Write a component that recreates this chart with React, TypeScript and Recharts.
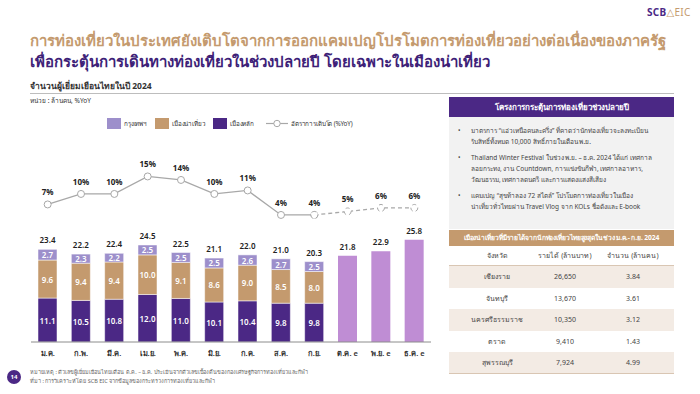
import { ComposedChart, Bar, Line, XAxis, YAxis, LabelList } from 'recharts';

const MONTHS = ['ม.ค.', 'ก.พ.', 'มี.ค.', 'เม.ย.', 'พ.ค.', 'มิ.ย.', 'ก.ค.', 'ส.ค.', 'ก.ย.', 'ต.ค. e', 'พ.ย. e', 'ธ.ค. e'];
const MAIN_CITY = [11.1, 10.5, 10.8, 12.0, 11.0, 10.1, 10.4, 9.8, 9.8, null, null, null];
const TOURIST_CITY = [9.6, 9.4, 9.4, 10.0, 9.1, 8.6, 9.0, 8.5, 8.0, null, null, null];
const BANGKOK = [2.7, 2.3, 2.2, 2.5, 2.5, 2.5, 2.6, 2.7, 2.5, null, null, null];
const ESTIMATE = [null, null, null, null, null, null, null, null, null, 21.8, 22.9, 25.8];
const TOTAL = [23.4, 22.2, 22.4, 24.5, 22.5, 21.1, 22.0, 21.0, 20.3, 21.8, 22.9, 25.8];
const YOY_ACTUAL = [7, 10, 10, 15, 14, 10, 11, 4, 4, null, null, null];
const YOY_EST = [null, null, null, null, null, null, null, null, 4, 5, 6, 6];

const PROVINCES = ['เชียงราย', 'จันทบุรี', 'นครศรีธรรมราช', 'ตราด', 'สุพรรณบุรี'];
const REVENUE = ['26,650', '13,670', '10,350', '9,410', '7,924'];
const VISITORS = ['3.84', '3.61', '3.12', '1.43', '4.99'];

const BULLETS = [
  ['มาตรการ “แอ่วเหนือคนละครึ่ง” ที่คาดว่านักท่องเที่ยวจะลงทะเบียน', 'รับสิทธิ์ทั้งหมด 10,000 สิทธิ์ภายในเดือน พ.ย.'],
  ['Thailand Winter Festival ในช่วง พ.ย. – ธ.ค. 2024 ได้แก่ เทศกาล', 'ลอยกระทง, งาน Countdown, การแข่งขันกีฬา, เทศกาลอาหาร,', 'วัฒนธรรม, เทศกาลดนตรี และการแสดงแสงสีเสียง'],
  ['แคมเปญ “สุขท้าลอง 72 สไตล์” โปรโมตการท่องเที่ยวในเมือง', 'น่าเที่ยวทั่วไทยผ่าน Travel Vlog จาก KOLs ชื่อดังและ E-book'],
];

const C_MAIN = '#4B2885';
const C_TOUR = '#C49A6E';
const C_BKK = '#9D8FCB';
const C_EST = '#BF8DD4';
const C_LINE = '#A8A8A8';
const FONT = "'Noto Sans', 'DejaVu Sans', sans-serif";

const data = MONTHS.map((m, i) => ({
  month: m,
  main: MAIN_CITY[i],
  tour: TOURIST_CITY[i],
  bkk: BANGKOK[i],
  est: ESTIMATE[i],
  totalTop: BANGKOK[i] == null ? null : TOTAL[i],
  yoy: YOY_ACTUAL[i],
  yoyEst: YOY_EST[i],
  yoyEstLabel: YOY_ACTUAL[i] == null ? YOY_EST[i] : null,
}));

function inside(props: any) {
  const { x, y, width, height, value } = props;
  if (value == null) return null;
  return (
    <text x={x + width / 2} y={y + height / 2} fill="#fff" fontSize={8} fontWeight={600} textAnchor="middle" dominantBaseline="central" fontFamily={FONT}>
      {Number(value).toFixed(1)}
    </text>
  );
}

function total(props: any) {
  const { x, y, width, value } = props;
  if (value == null) return null;
  return (
    <text x={x + width / 2} y={y - 6} fill="#222" fontSize={8} fontWeight={600} textAnchor="middle" fontFamily={FONT}>
      {Number(value).toFixed(1)}
    </text>
  );
}

function pct(props: any) {
  const { x, y, value } = props;
  if (value == null) return null;
  return (
    <text x={x} y={y - 9} fill="#222" fontSize={8} fontWeight={700} textAnchor="middle" fontFamily={FONT}>
      {value}%
    </text>
  );
}

function Legend() {
  const item = (left: number, color: string, label: string) => (
    <div style={{ position: 'absolute', left, top: 0, display: 'flex', alignItems: 'center', height: 11 }}>
      <div style={{ width: 14, height: 11, background: color, marginRight: 3 }} />
      <span>{label}</span>
    </div>
  );
  return (
    <div style={{ position: 'absolute', left: 0, top: 118, width: 440, height: 12, fontSize: 6.3, letterSpacing: -0.15, color: '#333', whiteSpace: 'nowrap' }}>
      {item(107, C_BKK, 'กรุงเทพฯ')}
      {item(155, C_TOUR, 'เมืองน่าเที่ยว')}
      {item(213, C_MAIN, 'เมืองหลัก')}
      <div style={{ position: 'absolute', left: 266, top: 0, display: 'flex', alignItems: 'center', height: 11 }}>
        <svg width={22} height={11}>
          <line x1={0} y1={5.5} x2={22} y2={5.5} stroke={C_LINE} strokeWidth={1.2} />
          <circle cx={11} cy={5.5} r={3.2} fill="#fff" stroke={C_LINE} strokeWidth={1} />
        </svg>
        <span style={{ marginLeft: 3 }}>อัตราการเติบโต (%YoY)</span>
      </div>
    </div>
  );
}

export default function App() {
  const rowTop = (r: number) => (r === 0 ? 245 : 266 + (r - 1) * 21.5);
  return (
    <div style={{ position: 'absolute', left: 0, top: 0, width: 700, height: 394, background: '#fff', overflow: 'hidden', fontFamily: FONT }}>
      {/* logo */}
      <div style={{ position: 'absolute', left: 647, top: 5, fontSize: 10, fontWeight: 700, letterSpacing: 0.3 }}>
        <span style={{ color: '#4B2885' }}>SCB</span>
        <span style={{ color: '#C49A6E', fontWeight: 400 }}>△EIC</span>
      </div>

      {/* title */}
      <div style={{ position: 'absolute', left: 30, top: 30, fontSize: 15, fontWeight: 700, color: '#C49A6E', whiteSpace: 'nowrap', lineHeight: '20px' }}>
        การท่องเที่ยวในประเทศยังเติบโตจากการออกแคมเปญโปรโมตการท่องเที่ยวอย่างต่อเนื่องของภาครัฐ
      </div>
      <div style={{ position: 'absolute', left: 30, top: 51, fontSize: 15, fontWeight: 700, color: '#3E1F78', whiteSpace: 'nowrap', lineHeight: '20px' }}>
        เพื่อกระตุ้นการเดินทางท่องเที่ยวในช่วงปลายปี โดยเฉพาะในเมืองน่าเที่ยว
      </div>

      <div style={{ position: 'absolute', left: 30, top: 80, fontSize: 8.5, fontWeight: 700, color: '#333', lineHeight: '12px' }}>
        จำนวนผู้เยี่ยมเยือนไทยในปี 2024
      </div>
      <div style={{ position: 'absolute', left: 30, top: 93, width: 644, height: 1, background: '#bdbdbd' }} />
      <div style={{ position: 'absolute', left: 30, top: 96, fontSize: 6.5, color: '#333', lineHeight: '10px' }}>
        หน่วย : ล้านคน, %YoY
      </div>

      <Legend />

      <div style={{ position: 'absolute', left: 0, top: 130 }}>
        <ComposedChart width={440} height={260} data={data} margin={{ top: 30, right: 9, bottom: 28, left: 31 }} barCategoryGap={0}>
          <XAxis
            dataKey="month"
            tickLine={false}
            axisLine={{ stroke: '#8c8c8c', strokeWidth: 1 }}
            tick={{ fontSize: 7.5, fill: '#333', fontWeight: 600, fontFamily: FONT }}
            tickMargin={3}
            height={20}
            interval={0}
          />
          <YAxis yAxisId="bar" hide domain={[0, 45.96]} />
          <YAxis yAxisId="pct" hide domain={[-32.3, 19.7]} />
          <Bar yAxisId="bar" dataKey="main" stackId="s" fill={C_MAIN} barSize={19} stroke="#ffffff" strokeWidth={0.5} isAnimationActive={false}>
            <LabelList dataKey="main" content={inside} />
          </Bar>
          <Bar yAxisId="bar" dataKey="tour" stackId="s" fill={C_TOUR} barSize={19} stroke="#ffffff" strokeWidth={0.5} isAnimationActive={false}>
            <LabelList dataKey="tour" content={inside} />
          </Bar>
          <Bar yAxisId="bar" dataKey="bkk" stackId="s" fill={C_BKK} barSize={19} stroke="#ffffff" strokeWidth={0.5} isAnimationActive={false}>
            <LabelList dataKey="bkk" content={inside} />
            <LabelList dataKey="totalTop" content={total} />
          </Bar>
          <Bar yAxisId="bar" dataKey="est" stackId="s" fill={C_EST} barSize={19} isAnimationActive={false}>
            <LabelList dataKey="est" content={total} />
          </Bar>
          <Line yAxisId="pct" dataKey="yoy" stroke={C_LINE} strokeWidth={1.3} dot={{ r: 3.5, fill: '#fff', stroke: C_LINE, strokeWidth: 1 }} isAnimationActive={false}>
            <LabelList dataKey="yoy" content={pct} />
          </Line>
          <Line yAxisId="pct" dataKey="yoyEst" stroke={C_LINE} strokeWidth={1.3} strokeDasharray="4 3" dot={{ r: 3.5, fill: '#fff', stroke: C_LINE, strokeWidth: 1 }} isAnimationActive={false}>
            <LabelList dataKey="yoyEstLabel" content={pct} />
          </Line>
        </ComposedChart>
      </div>

      {/* right panel */}
      <div style={{ position: 'absolute', left: 449, top: 97, width: 225, height: 20, background: '#4B2885', color: '#fff', fontSize: 8, fontWeight: 700, textAlign: 'center', lineHeight: '20px' }}>
        โครงการกระตุ้นการท่องเที่ยวช่วงปลายปี
      </div>
      <div style={{ position: 'absolute', left: 449, top: 117, width: 225, height: 112, background: '#f2f2f2' }}>
        {BULLETS.map((lines, i) => (
          <div key={i} style={{ position: 'absolute', left: 0, top: [8, 35, 73][i], width: 225, fontSize: 6.5, color: '#444', lineHeight: '11px' }}>
            <span style={{ position: 'absolute', left: 9, top: 0 }}>•</span>
            {lines.map((l, j) => (
              <div key={j} style={{ marginLeft: 22, whiteSpace: 'nowrap' }}>{l}</div>
            ))}
          </div>
        ))}
      </div>
      <div style={{ position: 'absolute', left: 449, top: 230, width: 225, height: 16, background: '#C49A6E', color: '#fff', fontSize: 6.7, fontWeight: 700, textAlign: 'center', lineHeight: '16px', whiteSpace: 'nowrap', letterSpacing: -0.1 }}>
        เมืองน่าเที่ยวที่มีรายได้จากนักท่องเที่ยวไทยสูงสุดในช่วง ม.ค.- ก.ย. 2024
      </div>
      {[['จังหวัด', 'รายได้ (ล้านบาท)', 'จำนวน (ล้านคน)'], ...PROVINCES.map((p, i) => [p, REVENUE[i], VISITORS[i]])].map((row, r) => (
        <div key={r} style={{ position: 'absolute', left: 449, top: rowTop(r) + (r === 0 ? 1 : 0), width: 225, height: r === 0 ? 20 : 21.5, boxSizing: 'border-box', background: r % 2 === 1 ? '#F3EBE4' : '#fff', borderBottom: r === 0 || r === 5 ? '1.5px solid #D9C6B3' : 'none', fontSize: 7, color: '#444', lineHeight: r === 0 ? '20px' : '21.5px' }}>
          {row.map((c, k) => (
            <div key={k} style={{ position: 'absolute', left: [48, 116, 184][k] - 50, width: 100, textAlign: 'center' }}>{c}</div>
          ))}
        </div>
      ))}

      {/* footer */}
      <div style={{ position: 'absolute', left: 7, top: 370, width: 14, height: 14, borderRadius: 7, background: '#4B2885', color: '#fff', fontSize: 6, fontWeight: 700, textAlign: 'center', lineHeight: '14px' }}>14</div>
      <div style={{ position: 'absolute', left: 30, top: 368, fontSize: 5.5, color: '#666', lineHeight: '8.5px', whiteSpace: 'nowrap' }}>
        <div>หมายเหตุ : ตัวเลขผู้เยี่ยมเยือนไทยเดือน ต.ค. – ธ.ค. ประเมินจากตัวเลขเบื้องต้นของกองเศรษฐกิจการท่องเที่ยวและกีฬา</div>
        <div>ที่มา : การวิเคราะห์โดย SCB EIC จากข้อมูลของกระทรวงการท่องเที่ยวและกีฬา</div>
      </div>
    </div>
  );
}
